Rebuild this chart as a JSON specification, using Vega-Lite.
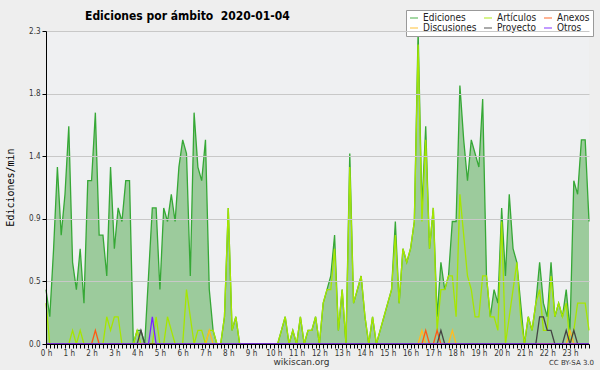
{
  "$schema": "https://vega.github.io/schema/vega-lite/v6.json",
  "width": 543,
  "height": 313,
  "autosize": {"type": "none"},
  "padding": {"left": 46, "top": 31, "right": 11, "bottom": 26},
  "background": "#eeeeee",
  "title": {"text": "Ediciones por ámbito\u00a0\u00a02020-01-04", "anchor": "start", "frame": "group", "dx": 39, "dy": 21, "offset": 8, "font": "DejaVu Sans Condensed", "fontWeight": "bold", "fontSize": 12, "color": "#000"},
  "data": {"values": [
    {"t":0,"Ediciones":0.4,"Artículos":0.3,"Discusiones":0,"Anexos":0,"Proyecto":0,"Otros":0},
    {"t":1,"Ediciones":0.2,"Artículos":0,"Discusiones":0,"Anexos":0,"Proyecto":0,"Otros":0},
    {"t":2,"Ediciones":0.7,"Artículos":0,"Discusiones":0,"Anexos":0,"Proyecto":0,"Otros":0},
    {"t":3,"Ediciones":1.3,"Artículos":0,"Discusiones":0,"Anexos":0,"Proyecto":0,"Otros":0},
    {"t":4,"Ediciones":0.8,"Artículos":0,"Discusiones":0,"Anexos":0,"Proyecto":0,"Otros":0},
    {"t":5,"Ediciones":1.1,"Artículos":0,"Discusiones":0,"Anexos":0,"Proyecto":0,"Otros":0},
    {"t":6,"Ediciones":1.6,"Artículos":0,"Discusiones":0,"Anexos":0,"Proyecto":0,"Otros":0},
    {"t":7,"Ediciones":0.6,"Artículos":0.1,"Discusiones":0,"Anexos":0,"Proyecto":0,"Otros":0},
    {"t":8,"Ediciones":0.4,"Artículos":0,"Discusiones":0,"Anexos":0,"Proyecto":0,"Otros":0},
    {"t":9,"Ediciones":0.7,"Artículos":0.1,"Discusiones":0,"Anexos":0,"Proyecto":0,"Otros":0},
    {"t":10,"Ediciones":0.3,"Artículos":0,"Discusiones":0,"Anexos":0,"Proyecto":0,"Otros":0},
    {"t":11,"Ediciones":1.2,"Artículos":0,"Discusiones":0,"Anexos":0,"Proyecto":0,"Otros":0},
    {"t":12,"Ediciones":1.2,"Artículos":0,"Discusiones":0,"Anexos":0,"Proyecto":0,"Otros":0},
    {"t":13,"Ediciones":1.7,"Artículos":0,"Discusiones":0,"Anexos":0.1,"Proyecto":0,"Otros":0},
    {"t":14,"Ediciones":0.8,"Artículos":0,"Discusiones":0,"Anexos":0,"Proyecto":0,"Otros":0},
    {"t":15,"Ediciones":0.8,"Artículos":0,"Discusiones":0,"Anexos":0,"Proyecto":0,"Otros":0},
    {"t":16,"Ediciones":0.5,"Artículos":0.2,"Discusiones":0,"Anexos":0,"Proyecto":0,"Otros":0},
    {"t":17,"Ediciones":1.3,"Artículos":0.1,"Discusiones":0,"Anexos":0,"Proyecto":0,"Otros":0},
    {"t":18,"Ediciones":0.7,"Artículos":0.2,"Discusiones":0,"Anexos":0,"Proyecto":0,"Otros":0},
    {"t":19,"Ediciones":1.0,"Artículos":0.2,"Discusiones":0,"Anexos":0,"Proyecto":0,"Otros":0},
    {"t":20,"Ediciones":0.9,"Artículos":0,"Discusiones":0,"Anexos":0,"Proyecto":0,"Otros":0},
    {"t":21,"Ediciones":1.2,"Artículos":0,"Discusiones":0,"Anexos":0,"Proyecto":0,"Otros":0},
    {"t":22,"Ediciones":1.2,"Artículos":0,"Discusiones":0,"Anexos":0,"Proyecto":0,"Otros":0},
    {"t":23,"Ediciones":0,"Artículos":0,"Discusiones":0,"Anexos":0,"Proyecto":0,"Otros":0},
    {"t":24,"Ediciones":0.1,"Artículos":0.1,"Discusiones":0,"Anexos":0,"Proyecto":0,"Otros":0},
    {"t":25,"Ediciones":0.1,"Artículos":0,"Discusiones":0,"Anexos":0,"Proyecto":0.1,"Otros":0},
    {"t":26,"Ediciones":0,"Artículos":0,"Discusiones":0,"Anexos":0,"Proyecto":0,"Otros":0},
    {"t":27,"Ediciones":0.5,"Artículos":0,"Discusiones":0,"Anexos":0,"Proyecto":0,"Otros":0},
    {"t":28,"Ediciones":1.0,"Artículos":0,"Discusiones":0,"Anexos":0,"Proyecto":0,"Otros":0.2},
    {"t":29,"Ediciones":1.0,"Artículos":0.2,"Discusiones":0,"Anexos":0,"Proyecto":0,"Otros":0},
    {"t":30,"Ediciones":0.4,"Artículos":0,"Discusiones":0,"Anexos":0,"Proyecto":0,"Otros":0},
    {"t":31,"Ediciones":1.0,"Artículos":0,"Discusiones":0,"Anexos":0,"Proyecto":0,"Otros":0},
    {"t":32,"Ediciones":0.9,"Artículos":0.2,"Discusiones":0,"Anexos":0,"Proyecto":0,"Otros":0},
    {"t":33,"Ediciones":1.1,"Artículos":0.1,"Discusiones":0,"Anexos":0,"Proyecto":0,"Otros":0},
    {"t":34,"Ediciones":0.9,"Artículos":0,"Discusiones":0,"Anexos":0,"Proyecto":0,"Otros":0},
    {"t":35,"Ediciones":1.3,"Artículos":0,"Discusiones":0,"Anexos":0,"Proyecto":0,"Otros":0},
    {"t":36,"Ediciones":1.5,"Artículos":0,"Discusiones":0,"Anexos":0,"Proyecto":0,"Otros":0},
    {"t":37,"Ediciones":1.4,"Artículos":0.4,"Discusiones":0,"Anexos":0,"Proyecto":0,"Otros":0},
    {"t":38,"Ediciones":0.5,"Artículos":0.2,"Discusiones":0,"Anexos":0,"Proyecto":0,"Otros":0},
    {"t":39,"Ediciones":1.7,"Artículos":0,"Discusiones":0,"Anexos":0,"Proyecto":0,"Otros":0},
    {"t":40,"Ediciones":1.3,"Artículos":0.1,"Discusiones":0,"Anexos":0,"Proyecto":0,"Otros":0},
    {"t":41,"Ediciones":1.2,"Artículos":0.1,"Discusiones":0,"Anexos":0,"Proyecto":0,"Otros":0},
    {"t":42,"Ediciones":1.5,"Artículos":0,"Discusiones":0,"Anexos":0,"Proyecto":0,"Otros":0},
    {"t":43,"Ediciones":0.4,"Artículos":0.1,"Discusiones":0.1,"Anexos":0,"Proyecto":0,"Otros":0},
    {"t":44,"Ediciones":0.1,"Artículos":0.1,"Discusiones":0,"Anexos":0,"Proyecto":0,"Otros":0},
    {"t":45,"Ediciones":0,"Artículos":0,"Discusiones":0,"Anexos":0,"Proyecto":0,"Otros":0},
    {"t":46,"Ediciones":0,"Artículos":0,"Discusiones":0,"Anexos":0,"Proyecto":0,"Otros":0},
    {"t":47,"Ediciones":0.2,"Artículos":0.2,"Discusiones":0,"Anexos":0,"Proyecto":0,"Otros":0},
    {"t":48,"Ediciones":1.0,"Artículos":1.0,"Discusiones":0,"Anexos":0,"Proyecto":0,"Otros":0},
    {"t":49,"Ediciones":0.1,"Artículos":0.1,"Discusiones":0,"Anexos":0,"Proyecto":0,"Otros":0},
    {"t":50,"Ediciones":0.2,"Artículos":0.2,"Discusiones":0,"Anexos":0,"Proyecto":0,"Otros":0},
    {"t":51,"Ediciones":0,"Artículos":0,"Discusiones":0,"Anexos":0,"Proyecto":0,"Otros":0},
    {"t":52,"Ediciones":0,"Artículos":0,"Discusiones":0,"Anexos":0,"Proyecto":0,"Otros":0},
    {"t":53,"Ediciones":0,"Artículos":0,"Discusiones":0,"Anexos":0,"Proyecto":0,"Otros":0},
    {"t":54,"Ediciones":0,"Artículos":0,"Discusiones":0,"Anexos":0,"Proyecto":0,"Otros":0},
    {"t":55,"Ediciones":0,"Artículos":0,"Discusiones":0,"Anexos":0,"Proyecto":0,"Otros":0},
    {"t":56,"Ediciones":0,"Artículos":0,"Discusiones":0,"Anexos":0,"Proyecto":0,"Otros":0},
    {"t":57,"Ediciones":0,"Artículos":0,"Discusiones":0,"Anexos":0,"Proyecto":0,"Otros":0},
    {"t":58,"Ediciones":0,"Artículos":0,"Discusiones":0,"Anexos":0,"Proyecto":0,"Otros":0},
    {"t":59,"Ediciones":0,"Artículos":0,"Discusiones":0,"Anexos":0,"Proyecto":0,"Otros":0},
    {"t":60,"Ediciones":0,"Artículos":0,"Discusiones":0,"Anexos":0,"Proyecto":0,"Otros":0},
    {"t":61,"Ediciones":0,"Artículos":0,"Discusiones":0,"Anexos":0,"Proyecto":0,"Otros":0},
    {"t":62,"Ediciones":0.1,"Artículos":0.1,"Discusiones":0,"Anexos":0,"Proyecto":0,"Otros":0},
    {"t":63,"Ediciones":0.2,"Artículos":0.2,"Discusiones":0,"Anexos":0,"Proyecto":0,"Otros":0},
    {"t":64,"Ediciones":0,"Artículos":0,"Discusiones":0,"Anexos":0,"Proyecto":0,"Otros":0},
    {"t":65,"Ediciones":0.1,"Artículos":0.1,"Discusiones":0,"Anexos":0,"Proyecto":0,"Otros":0},
    {"t":66,"Ediciones":0,"Artículos":0,"Discusiones":0,"Anexos":0,"Proyecto":0,"Otros":0},
    {"t":67,"Ediciones":0.2,"Artículos":0.2,"Discusiones":0,"Anexos":0,"Proyecto":0,"Otros":0},
    {"t":68,"Ediciones":0,"Artículos":0,"Discusiones":0,"Anexos":0,"Proyecto":0,"Otros":0},
    {"t":69,"Ediciones":0.1,"Artículos":0.1,"Discusiones":0,"Anexos":0,"Proyecto":0,"Otros":0},
    {"t":70,"Ediciones":0.1,"Artículos":0.1,"Discusiones":0,"Anexos":0,"Proyecto":0,"Otros":0},
    {"t":71,"Ediciones":0.2,"Artículos":0.2,"Discusiones":0,"Anexos":0,"Proyecto":0,"Otros":0},
    {"t":72,"Ediciones":0,"Artículos":0,"Discusiones":0,"Anexos":0,"Proyecto":0,"Otros":0},
    {"t":73,"Ediciones":0.3,"Artículos":0.3,"Discusiones":0,"Anexos":0,"Proyecto":0,"Otros":0},
    {"t":74,"Ediciones":0.4,"Artículos":0.4,"Discusiones":0,"Anexos":0,"Proyecto":0,"Otros":0},
    {"t":75,"Ediciones":0.5,"Artículos":0.4,"Discusiones":0,"Anexos":0,"Proyecto":0,"Otros":0},
    {"t":76,"Ediciones":0.8,"Artículos":0.7,"Discusiones":0,"Anexos":0,"Proyecto":0,"Otros":0},
    {"t":77,"Ediciones":0.1,"Artículos":0.1,"Discusiones":0,"Anexos":0,"Proyecto":0,"Otros":0},
    {"t":78,"Ediciones":0.4,"Artículos":0.4,"Discusiones":0,"Anexos":0,"Proyecto":0,"Otros":0},
    {"t":79,"Ediciones":0,"Artículos":0,"Discusiones":0,"Anexos":0,"Proyecto":0,"Otros":0},
    {"t":80,"Ediciones":1.4,"Artículos":1.3,"Discusiones":0,"Anexos":0,"Proyecto":0,"Otros":0},
    {"t":81,"Ediciones":0.3,"Artículos":0.3,"Discusiones":0,"Anexos":0,"Proyecto":0,"Otros":0},
    {"t":82,"Ediciones":0.4,"Artículos":0.4,"Discusiones":0,"Anexos":0,"Proyecto":0,"Otros":0},
    {"t":83,"Ediciones":0.5,"Artículos":0.5,"Discusiones":0,"Anexos":0,"Proyecto":0,"Otros":0},
    {"t":84,"Ediciones":0.2,"Artículos":0.2,"Discusiones":0,"Anexos":0,"Proyecto":0,"Otros":0},
    {"t":85,"Ediciones":0,"Artículos":0,"Discusiones":0,"Anexos":0,"Proyecto":0,"Otros":0},
    {"t":86,"Ediciones":0.2,"Artículos":0.2,"Discusiones":0,"Anexos":0,"Proyecto":0,"Otros":0},
    {"t":87,"Ediciones":0,"Artículos":0,"Discusiones":0,"Anexos":0,"Proyecto":0,"Otros":0},
    {"t":88,"Ediciones":0.1,"Artículos":0.1,"Discusiones":0,"Anexos":0,"Proyecto":0,"Otros":0},
    {"t":89,"Ediciones":0.2,"Artículos":0.2,"Discusiones":0,"Anexos":0,"Proyecto":0,"Otros":0},
    {"t":90,"Ediciones":0.3,"Artículos":0.3,"Discusiones":0,"Anexos":0,"Proyecto":0,"Otros":0},
    {"t":91,"Ediciones":0.4,"Artículos":0.4,"Discusiones":0,"Anexos":0,"Proyecto":0,"Otros":0},
    {"t":92,"Ediciones":0.9,"Artículos":0.8,"Discusiones":0,"Anexos":0,"Proyecto":0,"Otros":0},
    {"t":93,"Ediciones":0.3,"Artículos":0.3,"Discusiones":0,"Anexos":0,"Proyecto":0,"Otros":0},
    {"t":94,"Ediciones":0.7,"Artículos":0.7,"Discusiones":0,"Anexos":0,"Proyecto":0,"Otros":0},
    {"t":95,"Ediciones":0.6,"Artículos":0.6,"Discusiones":0,"Anexos":0,"Proyecto":0,"Otros":0},
    {"t":96,"Ediciones":0.7,"Artículos":0.7,"Discusiones":0,"Anexos":0,"Proyecto":0,"Otros":0},
    {"t":97,"Ediciones":0.9,"Artículos":0.9,"Discusiones":0,"Anexos":0,"Proyecto":0,"Otros":0},
    {"t":98,"Ediciones":2.3,"Artículos":2.2,"Discusiones":0,"Anexos":0,"Proyecto":0,"Otros":0},
    {"t":99,"Ediciones":1.0,"Artículos":0.9,"Discusiones":0.1,"Anexos":0,"Proyecto":0,"Otros":0},
    {"t":100,"Ediciones":1.6,"Artículos":1.5,"Discusiones":0,"Anexos":0.1,"Proyecto":0,"Otros":0},
    {"t":101,"Ediciones":0.7,"Artículos":0.7,"Discusiones":0,"Anexos":0,"Proyecto":0,"Otros":0},
    {"t":102,"Ediciones":1.0,"Artículos":1.0,"Discusiones":0,"Anexos":0,"Proyecto":0,"Otros":0},
    {"t":103,"Ediciones":0.2,"Artículos":0.1,"Discusiones":0,"Anexos":0.1,"Proyecto":0,"Otros":0},
    {"t":104,"Ediciones":0.6,"Artículos":0.4,"Discusiones":0,"Anexos":0,"Proyecto":0.1,"Otros":0},
    {"t":105,"Ediciones":0.4,"Artículos":0.4,"Discusiones":0,"Anexos":0,"Proyecto":0,"Otros":0},
    {"t":106,"Ediciones":0.5,"Artículos":0.5,"Discusiones":0,"Anexos":0,"Proyecto":0,"Otros":0},
    {"t":107,"Ediciones":0.9,"Artículos":0.5,"Discusiones":0.1,"Anexos":0,"Proyecto":0,"Otros":0},
    {"t":108,"Ediciones":0.9,"Artículos":0.2,"Discusiones":0,"Anexos":0,"Proyecto":0,"Otros":0},
    {"t":109,"Ediciones":1.9,"Artículos":1.1,"Discusiones":0,"Anexos":0,"Proyecto":0,"Otros":0},
    {"t":110,"Ediciones":1.5,"Artículos":0.8,"Discusiones":0,"Anexos":0,"Proyecto":0,"Otros":0},
    {"t":111,"Ediciones":1.2,"Artículos":0.5,"Discusiones":0,"Anexos":0,"Proyecto":0,"Otros":0},
    {"t":112,"Ediciones":1.5,"Artículos":0.4,"Discusiones":0,"Anexos":0,"Proyecto":0,"Otros":0},
    {"t":113,"Ediciones":1.4,"Artículos":0.2,"Discusiones":0,"Anexos":0,"Proyecto":0,"Otros":0},
    {"t":114,"Ediciones":1.3,"Artículos":0.2,"Discusiones":0,"Anexos":0,"Proyecto":0,"Otros":0},
    {"t":115,"Ediciones":1.8,"Artículos":0.5,"Discusiones":0,"Anexos":0,"Proyecto":0,"Otros":0},
    {"t":116,"Ediciones":0.5,"Artículos":0.5,"Discusiones":0,"Anexos":0,"Proyecto":0,"Otros":0},
    {"t":117,"Ediciones":0.2,"Artículos":0.2,"Discusiones":0,"Anexos":0,"Proyecto":0,"Otros":0},
    {"t":118,"Ediciones":0.4,"Artículos":0.2,"Discusiones":0,"Anexos":0,"Proyecto":0,"Otros":0},
    {"t":119,"Ediciones":0.3,"Artículos":0.1,"Discusiones":0,"Anexos":0,"Proyecto":0,"Otros":0},
    {"t":120,"Ediciones":1.0,"Artículos":0.9,"Discusiones":0,"Anexos":0,"Proyecto":0,"Otros":0},
    {"t":121,"Ediciones":0.5,"Artículos":0,"Discusiones":0,"Anexos":0,"Proyecto":0,"Otros":0},
    {"t":122,"Ediciones":1.1,"Artículos":0.2,"Discusiones":0,"Anexos":0,"Proyecto":0,"Otros":0},
    {"t":123,"Ediciones":0.7,"Artículos":0.4,"Discusiones":0,"Anexos":0,"Proyecto":0,"Otros":0},
    {"t":124,"Ediciones":0.6,"Artículos":0.6,"Discusiones":0,"Anexos":0,"Proyecto":0,"Otros":0},
    {"t":125,"Ediciones":0.3,"Artículos":0.2,"Discusiones":0,"Anexos":0,"Proyecto":0,"Otros":0},
    {"t":126,"Ediciones":0,"Artículos":0,"Discusiones":0,"Anexos":0,"Proyecto":0,"Otros":0},
    {"t":127,"Ediciones":0.2,"Artículos":0.2,"Discusiones":0,"Anexos":0,"Proyecto":0,"Otros":0},
    {"t":128,"Ediciones":0.1,"Artículos":0.1,"Discusiones":0,"Anexos":0,"Proyecto":0,"Otros":0},
    {"t":129,"Ediciones":0.3,"Artículos":0.3,"Discusiones":0,"Anexos":0,"Proyecto":0,"Otros":0},
    {"t":130,"Ediciones":0.6,"Artículos":0.4,"Discusiones":0,"Anexos":0,"Proyecto":0.2,"Otros":0},
    {"t":131,"Ediciones":0.3,"Artículos":0.1,"Discusiones":0,"Anexos":0,"Proyecto":0.2,"Otros":0},
    {"t":132,"Ediciones":0.2,"Artículos":0.1,"Discusiones":0,"Anexos":0,"Proyecto":0.1,"Otros":0},
    {"t":133,"Ediciones":0.6,"Artículos":0.5,"Discusiones":0,"Anexos":0,"Proyecto":0.1,"Otros":0},
    {"t":134,"Ediciones":0.2,"Artículos":0.2,"Discusiones":0,"Anexos":0,"Proyecto":0,"Otros":0},
    {"t":135,"Ediciones":0.3,"Artículos":0.3,"Discusiones":0,"Anexos":0,"Proyecto":0,"Otros":0},
    {"t":136,"Ediciones":0.2,"Artículos":0.2,"Discusiones":0,"Anexos":0,"Proyecto":0,"Otros":0},
    {"t":137,"Ediciones":0.4,"Artículos":0.3,"Discusiones":0,"Anexos":0,"Proyecto":0.1,"Otros":0},
    {"t":138,"Ediciones":0.1,"Artículos":0,"Discusiones":0.1,"Anexos":0,"Proyecto":0,"Otros":0},
    {"t":139,"Ediciones":1.2,"Artículos":0.1,"Discusiones":0,"Anexos":0,"Proyecto":0.1,"Otros":0},
    {"t":140,"Ediciones":1.1,"Artículos":0.3,"Discusiones":0,"Anexos":0,"Proyecto":0,"Otros":0},
    {"t":141,"Ediciones":1.5,"Artículos":0.3,"Discusiones":0,"Anexos":0,"Proyecto":0,"Otros":0},
    {"t":142,"Ediciones":1.5,"Artículos":0.3,"Discusiones":0,"Anexos":0,"Proyecto":0,"Otros":0},
    {"t":143,"Ediciones":0.9,"Artículos":0.1,"Discusiones":0,"Anexos":0,"Proyecto":0,"Otros":0}
  ]},
  "layer": [
    {
      "mark": {"type": "area", "color": "#9ccb9c", "opacity": 1},
      "encoding": {
        "x": {"field": "t", "type": "quantitative", "scale": {"domain": [0, 143], "nice": false, "zero": false},
          "axis": {"tickCount": 144, "labelExpr": "datum.value % 6 === 0 ? (datum.value / 6) + ' h' : ''", "labelOverlap": false, "labelFlush": false, "grid": false, "tickSize": 4, "labelPadding": 1, "labelFontSize": 8, "zindex": 1, "title": "wikiscan.org", "titleX": 255, "titleY": 17, "titleAlign": "center", "titleBaseline": "middle", "titleFontSize": 9, "titleFontWeight": "normal", "titleColor": "#333", "titleFont": "DejaVu Sans"}},
        "y": {"field": "Ediciones", "type": "quantitative", "scale": {"domain": [0, 2.3], "nice": false},
          "axis": {"values": [0,0.115,0.23,0.345,0.46,0.575,0.69,0.805,0.92,1.035,1.15,1.265,1.38,1.495,1.61,1.725,1.84,1.955,2.07,2.185,2.3],
            "labelExpr": "round(datum.value / 0.115) % 4 === 0 ? format(datum.value, '.1f') : ''",
            "gridOpacity": {"condition": {"test": "round(datum.value / 0.115) % 4 === 0 && datum.value > 0", "value": 1}, "value": 0},
            "gridColor": "#c8c8c8", "tickSize": 4, "labelPadding": 2, "labelFontSize": 8, "labelOverlap": false, "labelFlush": false, "zindex": 1,
            "title": "Ediciones/min", "titleFont": "DejaVu Sans Mono", "titleFontSize": 10, "titleFontWeight": "normal", "titleColor": "#000", "titleX": -36, "titleY": 156, "titleAlign": "center", "titleBaseline": "middle", "titleAngle": -90}}
      }
    },
    {
      "transform": [{"fold": ["Ediciones", "Artículos", "Discusiones", "Anexos", "Proyecto", "Otros"], "as": ["serie", "v"]}],
      "mark": {"type": "line", "strokeWidth": 1.3, "interpolate": "linear"},
      "encoding": {
        "x": {"field": "t", "type": "quantitative", "axis": {"orient": "bottom", "labels": false, "ticks": false, "domain": false, "grid": false, "title": "CC BY-SA 3.0", "titleX": 525, "titleY": 18, "titleAlign": "center", "titleBaseline": "middle", "titleFontSize": 7, "titleFontWeight": "normal", "titleColor": "#333", "titleFont": "DejaVu Sans"}},
        "y": {"field": "v", "type": "quantitative", "title": "Ediciones/min"},
        "color": {"field": "serie", "type": "nominal",
          "scale": {"domain": ["Ediciones", "Artículos", "Anexos", "Discusiones", "Proyecto", "Otros"], "range": ["#36a836", "#a6e600", "#ff5a14", "#ffbb22", "#444444", "#7a22ff"]},
          "legend": {"orient": "none", "legendX": 360, "legendY": -21, "direction": "horizontal", "columns": 3, "title": null, "symbolType": "stroke", "symbolSize": 64, "symbolStrokeWidth": 1.5, "symbolOpacity": 0.6, "labelFont": "DejaVu Sans Condensed", "labelFontSize": 10, "labelColor": "#222", "fillColor": "#ffffff", "strokeColor": "#999999", "padding": 3, "columnPadding": 4, "rowPadding": 0, "labelOffset": 4, "labelLimit": 200}}
      }
    }
  ],
  "resolve": {"axis": {"x": "independent"}},
  "config": {
    "view": {"fill": "#eff0f2", "stroke": null},
    "axis": {"domainColor": "#000", "tickColor": "#000", "labelColor": "#333", "labelFont": "DejaVu Sans Condensed", "domainWidth": 1, "tickWidth": 1},
    "font": "DejaVu Sans"
  }
}
